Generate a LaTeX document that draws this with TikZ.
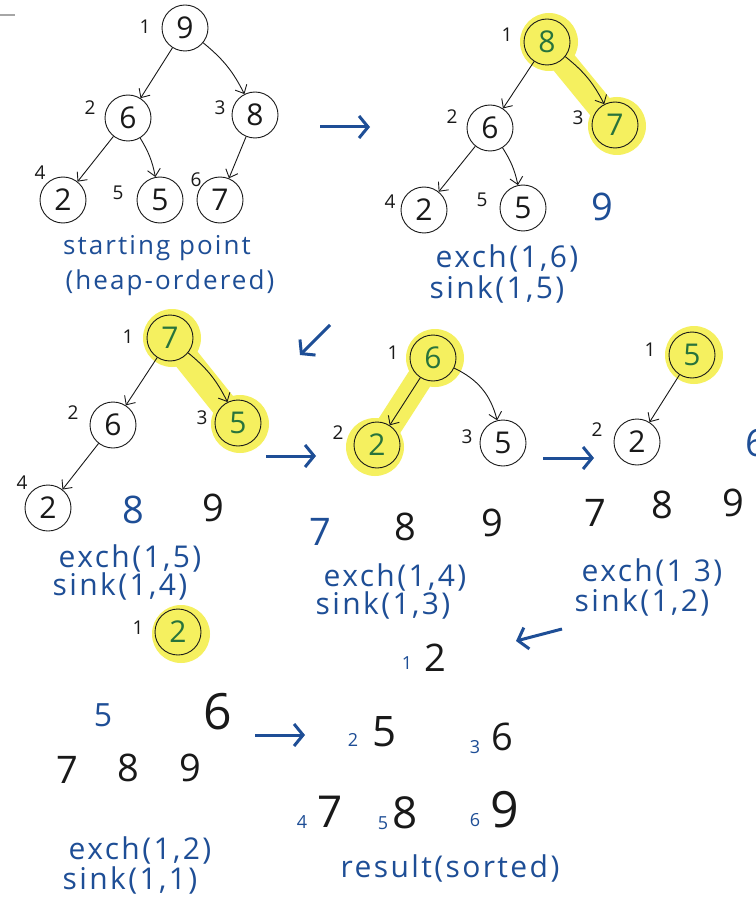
\documentclass[tikz,border=0pt]{standalone}
\usepackage{fontspec}
\setmainfont{Open Sans}
\newfontfamily\hand[LetterSpace=8]{Open Sans}
\usetikzlibrary{arrows.meta,backgrounds}
\definecolor{ink}{RGB}{25,25,25}
\definecolor{pen}{RGB}{30,78,150}
\definecolor{hly}{RGB}{245,240,95}
\definecolor{grn}{RGB}{40,115,60}
\tikzset{
  nd/.style={circle,draw=ink,line width=0.9pt,minimum size=46pt,inner sep=0pt,
             font=\fontsize{30}{30}\selectfont,text=ink},
  hnd/.style={nd,text=grn},
  idx/.style={font=\fontsize{19}{19}\selectfont,text=ink,inner sep=0pt},
  bidx/.style={font=\fontsize{18}{18}\selectfont,text=pen,inner sep=0pt},
  lbl/.style={font=\hand\fontsize{30}{30}\selectfont,text=pen,inner sep=0pt},
  slbl/.style={lbl,font=\hand\fontsize{26}{26}\selectfont},
  dig/.style={font=\fontsize{38}{38}\selectfont,text=ink,inner sep=0pt},
  bdig/.style={dig,text=pen},
  edge/.style={draw=ink,line width=0.9pt,-{Straight Barb[length=7pt,width=13pt]}},
  flow/.style={draw=pen,line width=3pt,-{Straight Barb[length=9pt,width=22pt,line width=3pt]}},
  glow/.style={draw=hly,line width=26pt,line cap=round},
  halo/.style={fill=hly},
}
\begin{document}
\begin{tikzpicture}[x=1pt,y=1pt]
\begin{pgfonlayer}{background}
  \fill[white] (0,0) rectangle (755,-901);
\end{pgfonlayer}
\useasboundingbox (0,0) rectangle (755,-901);
\draw[gray!70,line width=2pt] (0,-15) -- (15,-15);

% ---- heap 1: starting point
\node[nd] (a1) at (185,-28) {9};
\node[nd] (a2) at (128,-118) {6};
\node[nd] (a3) at (255,-115) {8};
\node[nd] (a4) at (63,-200) {2};
\node[nd] (a5) at (160,-200) {5};
\node[nd] (a6) at (220,-200) {7};
\node[idx] (ai1) at (145,-27) {1};
\node[idx] (ai2) at (90,-108) {2};
\node[idx] (ai3) at (220,-108) {3};
\node[idx] (ai4) at (40,-173) {4};
\node[idx] (ai5) at (118,-193) {5};
\node[idx] (ai6) at (196,-180) {6};
\draw[edge] (a1) -- (a2);
\draw[edge] (a1) to[bend left=12] (a3);
\draw[edge] (a2) -- (a4);
\draw[edge] (a2) to[bend left=10] (a5);
\draw[edge] (a3) -- (a6);
\node[slbl] (al1) at (157,-248) {starting point};
\node[slbl] (al2) at (170,-283) {(heap-ordered)};

\coordinate (f1s) at (320,-127);
\coordinate (f1e) at (370,-127);
\draw[flow] (f1s) -- (f1e);

% ---- heap 2
\node[hnd] (b1) at (547,-42) {8};
\node[nd] (b2) at (490,-128) {6};
\node[hnd] (b3) at (615,-125) {7};
\node[nd] (b4) at (424,-210) {2};
\node[nd] (b5) at (523,-208) {5};
\node[idx] (bi1) at (507,-35) {1};
\node[idx] (bi2) at (452,-117) {2};
\node[idx] (bi3) at (578,-118) {3};
\node[idx] (bi4) at (390,-202) {4};
\node[idx] (bi5) at (482,-200) {5};
\begin{pgfonlayer}{background}
  \draw[glow] (b1.center) -- (b3.center);
  \fill[halo] ([shift={(2,0)}]b1.center) circle (29);
  \fill[halo] ([shift={(2,-1)}]b3.center) circle (29);
\end{pgfonlayer}
\draw[edge] (b1) -- (b2);
\draw[edge] (b1) to[bend left=12] (b3);
\draw[edge] (b2) -- (b4);
\draw[edge] (b2) to[bend left=10] (b5);
\node[bdig] (bs9) at (602,-207) {9};
\node[lbl] (bl1) at (507,-258) {exch(1,6)};
\node[lbl] (bl2) at (497,-289) {sink(1,5)};

\coordinate (f2s) at (330,-325);
\coordinate (f2e) at (300,-355);
\draw[flow] (f2s) -- (f2e);

% ---- heap 3
\node[hnd] (c1) at (170,-338) {7};
\node[nd] (c2) at (113,-425) {6};
\node[hnd] (c3) at (238,-423) {5};
\node[nd] (c4) at (48,-508) {2};
\node[idx] (ci1) at (128,-337) {1};
\node[idx] (ci2) at (73,-413) {2};
\node[idx] (ci3) at (202,-418) {3};
\node[idx] (ci4) at (22,-483) {4};
\begin{pgfonlayer}{background}
  \draw[glow] (c1.center) -- (c3.center);
  \fill[halo] ([shift={(2,0)}]c1.center) circle (29);
  \fill[halo] ([shift={(2,-1)}]c3.center) circle (29);
\end{pgfonlayer}
\draw[edge] (c1) -- (c2);
\draw[edge] (c1) to[bend left=12] (c3);
\draw[edge] (c2) -- (c4);
\node[bdig] (cs8) at (133,-510) {8};
\node[dig] (cs9) at (213,-508) {9};
\node[lbl] (cl1) at (130,-558) {exch(1,5)};
\node[lbl] (cl2) at (120,-586) {sink(1,4)};

\coordinate (f3s) at (266,-456);
\coordinate (f3e) at (316,-456);
\draw[flow] (f3s) -- (f3e);

% ---- heap 4
\node[hnd] (d1) at (433,-358) {6};
\node[hnd] (d2) at (377,-445) {2};
\node[nd] (d3) at (503,-443) {5};
\node[idx] (di1) at (393,-353) {1};
\node[idx] (di2) at (338,-433) {2};
\node[idx] (di3) at (467,-437) {3};
\begin{pgfonlayer}{background}
  \draw[glow] (d1.center) -- (d2.center);
  \fill[halo] ([shift={(2,0)}]d1.center) circle (29);
  \fill[halo] ([shift={(-2,-2)}]d2.center) circle (29);
\end{pgfonlayer}
\draw[edge] (d1) -- (d2);
\draw[edge] (d1) to[bend left=25] (d3);
\node[bdig] (ds7) at (320,-532) {7};
\node[dig] (ds8) at (405,-527) {8};
\node[dig] (ds9) at (492,-523) {9};
\node[lbl] (dl1) at (395,-577) {exch(1,4)};
\node[lbl] (dl2) at (383,-605) {sink(1,3)};

\coordinate (f4s) at (543,-458);
\coordinate (f4e) at (594,-458);
\draw[flow] (f4s) -- (f4e);

% ---- heap 5
\node[hnd] (e1) at (692,-355) {5};
\node[nd] (e2) at (637,-442) {2};
\node[idx] (ei1) at (650,-350) {1};
\node[idx] (ei2) at (597,-430) {2};
\begin{pgfonlayer}{background}
  \fill[halo] ([shift={(2,0)}]e1.center) circle (29);
\end{pgfonlayer}
\draw[edge] (e1) -- (e2);
\node[bdig] (es6) at (756,-443) {6};
\node[dig] (es7) at (595,-513) {7};
\node[dig] (es8) at (662,-505) {8};
\node[dig] (es9) at (733,-503) {9};
\node[lbl] (el1) at (652,-572) {exch(1 3)};
\node[lbl] (el2) at (642,-602) {sink(1,2)};

\coordinate (f5s) at (562,-629);
\coordinate (f5e) at (516,-641);
\draw[flow] (f5s) -- (f5e);

% ---- heap 6
\node[hnd] (g1) at (178,-632) {2};
\node[idx] (gi1) at (138,-628) {1};
\begin{pgfonlayer}{background}
  \fill[halo] ([shift={(3,-2)}]g1.center) circle (29);
\end{pgfonlayer}
\node[bidx] (hi1) at (407,-663) {1};
\node[dig] (hs2) at (435,-658) {2};
\node[bdig,font=\fontsize{32}{32}\selectfont] (gs5) at (103,-715) {5};
\node[dig,font=\fontsize{50}{50}\selectfont] (gs6) at (218,-712) {6};
\node[dig] (gs7) at (67,-770) {7};
\node[dig] (gs8) at (128,-768) {8};
\node[dig] (gs9) at (190,-768) {9};
\node[lbl] (gl1) at (140,-850) {exch(1,2)};
\node[lbl] (gl2) at (130,-880) {sink(1,1)};

\coordinate (f6s) at (255,-735);
\coordinate (f6e) at (305,-735);
\draw[flow] (f6s) -- (f6e);

% ---- sorted result
\node[bidx] (ri2) at (353,-740) {2};
\node[dig,font=\fontsize{42}{42}\selectfont] (rs5) at (385,-732) {5};
\node[bidx] (ri3) at (475,-747) {3};
\node[dig] (rs6) at (502,-737) {6};
\node[bidx] (ri4) at (302,-822) {4};
\node[dig,font=\fontsize{44}{44}\selectfont] (rs7) at (330,-812) {7};
\node[bidx] (ri5) at (383,-823) {5};
\node[dig,font=\fontsize{44}{44}\selectfont] (rs8) at (405,-813) {8};
\node[bidx] (ri6) at (475,-820) {6};
\node[dig,font=\fontsize{50}{50}\selectfont] (rs9) at (505,-810) {9};
\node[lbl] (rl) at (450,-868) {result(sorted)};
\end{tikzpicture}
\end{document}
